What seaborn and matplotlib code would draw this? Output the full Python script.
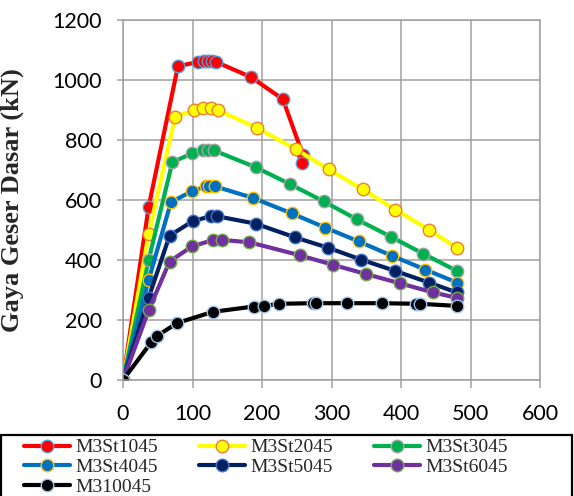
import matplotlib
matplotlib.use("Agg")
import matplotlib.pyplot as plt
import matplotlib.patches as mpatches
import seaborn as sns
import pandas as pd

# Displacement (mm) and base shear (kN) for each specimen
red_x = [0, 37, 79, 108, 116, 122, 128, 134, 184, 230, 259, 257]
red_y = [0, 578, 1046, 1060, 1062, 1062, 1062, 1060, 1010, 936, 749, 723]

yellow_x = [0, 37, 75, 102, 115, 126, 137, 193, 249, 296, 345, 392, 440, 480]
yellow_y = [0, 488, 877, 899, 905, 907, 899, 840, 769, 702, 635, 568, 501, 441]

green_x = [0, 37, 71, 99, 115, 122, 131, 191, 241, 289, 336, 385, 432, 480]
green_y = [0, 401, 726, 755, 765, 766, 765, 709, 652, 595, 536, 478, 421, 364]

blue_x = [0, 37, 69, 99, 119, 124, 133, 187, 243, 291, 339, 387, 435, 480]
blue_y = [0, 334, 593, 629, 645, 646, 645, 607, 555, 508, 462, 414, 368, 325]

navy_x = [0, 37, 67, 100, 126, 135, 191, 248, 295, 343, 391, 440, 480]
navy_y = [0, 275, 481, 529, 546, 546, 521, 475, 441, 401, 364, 325, 292]

purple_x = [0, 37, 67, 99, 130, 142, 182, 254, 302, 350, 399, 446, 480]
purple_y = [0, 233, 395, 445, 467, 467, 459, 416, 384, 353, 322, 292, 274]

black_x = [0, 41, 49, 78, 129, 188, 203, 224, 273, 277, 323, 372, 422, 428, 480]
black_y = [0, 127, 147, 190, 227, 245, 247, 254, 256, 256, 256, 256, 254, 254, 247]

labels = ["M3St1045", "M3St2045", "M3St3045", "M3St4045",
          "M3St5045", "M3St6045", "M310045"]
xs = [red_x, yellow_x, green_x, blue_x, navy_x, purple_x, black_x]
ys = [red_y, yellow_y, green_y, blue_y, navy_y, purple_y, black_y]

x_ticks = [0, 100, 200, 300, 400, 500, 600]
y_ticks = [0, 200, 400, 600, 800, 1000, 1200]

line_colors = ["#FF0000", "#FFFF00", "#00B050", "#0070C0", "#002060", "#7030A0", "#000000"]
edge_colors = ["#5B9BD5", "#ED7D31", "#A5A5A5", "#FFC000", "#4472C4", "#70AD47", "#9DC3E6"]

sns.set_theme(style="white")
plt.rcParams["font.family"] = ["Lato", "DejaVu Sans"]

W, H = 574, 496
fig = plt.figure(figsize=(W / 100, H / 100), dpi=100)
ax = fig.add_axes([123 / W, 1 - 380 / H, (540 - 123) / W, (380 - 20) / H])

handles = []
for lab, x, y, c, ec in zip(labels, xs, ys, line_colors, edge_colors):
    df = pd.DataFrame({"x": x, "y": y})
    sns.lineplot(data=df, x="x", y="y", ax=ax, sort=False, estimator=None,
                 color=c, lw=3.0, marker="o", markersize=9,
                 markerfacecolor=c, markeredgecolor=ec, markeredgewidth=1.0,
                 label=lab, legend=False)
    handles.append(ax.lines[-1])

grid_c = "#A0A0A0"
ax.set_xlim(0, 600)
ax.set_ylim(0, 1200)
ax.set_xticks(x_ticks)
ax.set_yticks(y_ticks)
ax.grid(True, color=grid_c, lw=1.1)
ax.set_axisbelow(True)
for s in ax.spines.values():
    s.set_color(grid_c)
    s.set_linewidth(1.1)
ax.tick_params(axis="x", bottom=True, length=6, width=1.1, color=grid_c,
               labelsize=15.5, pad=11, labelcolor="#000000")
ax.tick_params(axis="y", left=True, length=4, width=1.1, color=grid_c,
               labelsize=15.5, pad=11, labelcolor="#000000")
ax.set_xlabel("")
ax.set_ylabel("Gaya Geser Dasar (kN)", fontsize=19, fontweight="bold",
              family=["Liberation Serif", "DejaVu Serif"], labelpad=8)
ax.yaxis.set_label_coords(-(123 - 24) / (540 - 123), (380 - 200) / 360)

# legend frame running along the bottom of the figure
fig.patches.append(mpatches.Rectangle((1 / W, -0.05), (572 - 1) / W, 0.05 + 1 - 435 / H,
                                      transform=fig.transFigure, fill=False,
                                      edgecolor="black", lw=1.6))

order = [0, 3, 6, 1, 4, 2, 5]
leg = fig.legend([handles[i] for i in order], [labels[i] for i in order],
                 loc="upper left", bbox_to_anchor=(14 / W, 1 - 429 / H),
                 ncol=3, frameon=False, handlelength=2.4, handletextpad=0.25,
                 columnspacing=2.1, labelspacing=0.12, borderpad=0.0,
                 prop={"family": ["Liberation Serif"], "size": 14})

fig.savefig("out.png", dpi=100)
